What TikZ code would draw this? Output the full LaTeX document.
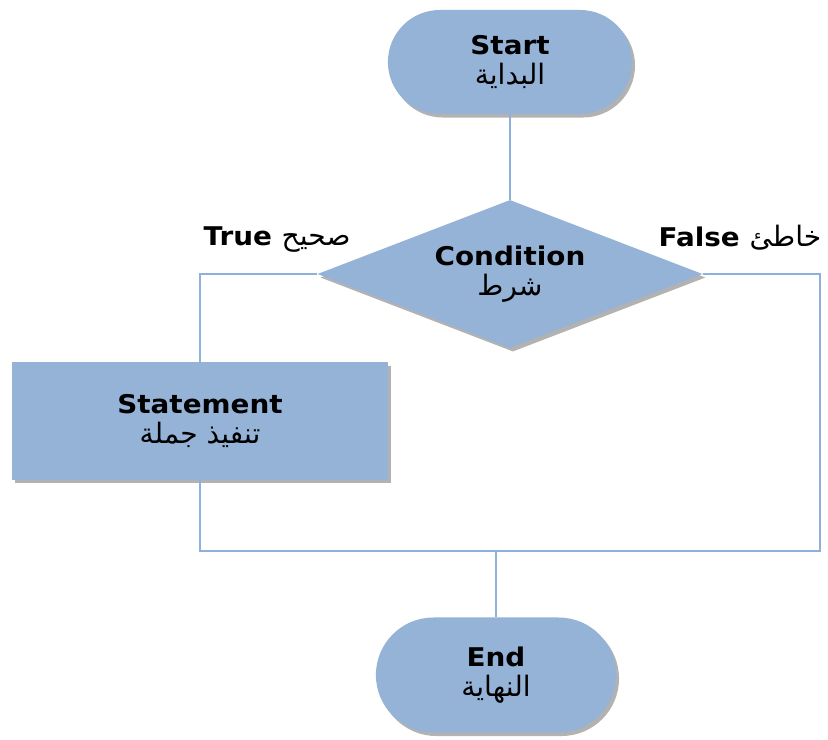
\documentclass[tikz,border=0pt]{standalone}
\usepackage{fontspec}
\setmainfont{DejaVu Sans}[FakeStretch=1.08]
\newfontfamily\arabicfont[Script=Arabic]{DejaVu Sans}
\TeXXeTstate=1
\usetikzlibrary{shapes.geometric}
\usetikzlibrary{shapes.misc}
\usetikzlibrary{shadows}
\usetikzlibrary{positioning}
\definecolor{boxblue}{HTML}{95B3D7}
\definecolor{lineblue}{HTML}{8FB0DA}
\newcommand{\arabictext}[1]{{\arabicfont\mdseries\fontsize{24}{26}\selectfont\beginR #1\endR}}

\begin{document}
\begin{tikzpicture}[x = 0.03cm, y = -0.03cm, font = \bfseries\fontsize{22}{25}\selectfont]
\tikzset{
  shade/.style = {drop shadow = {shadow xshift = 2.5pt, shadow yshift = -3pt, fill = black, opacity = 0.3}},
  terminal/.style = {fill = boxblue, rounded rectangle, align = center, shade},
  decision/.style = {fill = boxblue, diamond, aspect = 2.6, inner sep = 1pt, align = center, shade},
  block/.style = {fill = boxblue, rectangle, align = center, shade},
  branch/.style = {inner sep = 0pt},
  line/.style = {draw = lineblue, line width = 1.2pt},
}
\fill [white] (0,0) rectangle (828,740);
\useasboundingbox (0,0) rectangle (828,740);
\node [terminal, minimum width = 7.56cm, minimum height = 3.12cm] (start) at (510,62) {Start\\\arabictext{البداية}};
\node [decision, minimum width = 11.55cm, minimum height = 4.44cm] (condition) at (510,274) {Condition\\\arabictext{شرط}};
\node [block, minimum width = 11.28cm, minimum height = 3.51cm] (statement) at (200,421) {Statement\\\arabictext{تنفيذ جملة}};
\node [terminal, minimum width = 7.44cm, minimum height = 3.45cm] (end) at (496,675) {End\\\arabictext{النهاية}};
\node [branch] (trueLabel) at (277,240) {True \arabictext{صحيح}};
\node [branch] (falseLabel) at (740,238) {False \arabictext{خاطئ}};
\coordinate (falseSide) at (820,551);
\coordinate (merge) at (496,551);
\draw [line] (start.south) -- (condition.north);
\draw [line] (condition.west) -| (statement.north);
\draw [line] (condition.east) -| (falseSide) -- (merge);
\draw [line] (statement.south) |- (merge);
\draw [line] (merge) -- (end.north);
\end{tikzpicture}
\end{document}
